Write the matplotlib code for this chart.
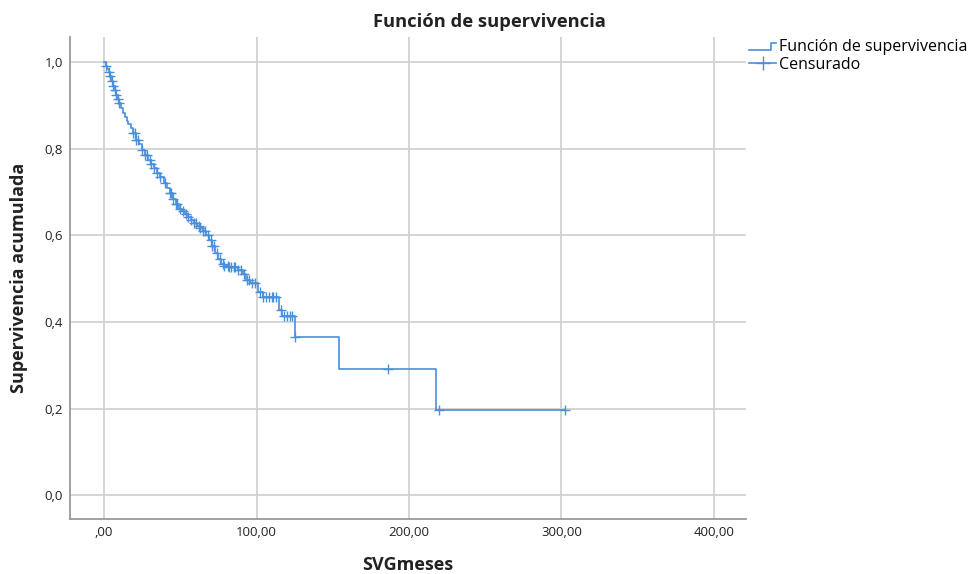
import numpy as np
import matplotlib
matplotlib.use("Agg")
import matplotlib.pyplot as plt
from matplotlib.lines import Line2D
from matplotlib.legend_handler import HandlerBase

# Kaplan-Meier estimate: event times (months) and survival level after each step
event_times = [0, 1, 2, 3, 4, 5, 6, 7, 8, 9, 10, 11, 12.5, 14, 15, 16, 17.5, 19,
               21, 23, 25, 27, 29, 31, 33, 35, 37, 39, 41, 43, 45, 47, 49, 51,
               53, 55, 57, 59, 61, 63, 65, 67, 69, 71, 73, 75, 77, 79, 82, 88,
               91, 93, 96, 101, 104, 115, 117, 125, 154, 218]
survival = [1.0, 0.992, 0.985, 0.977, 0.968, 0.957, 0.945, 0.935, 0.925, 0.915,
            0.905, 0.895, 0.882, 0.873, 0.865, 0.858, 0.847, 0.836, 0.82, 0.81,
            0.798, 0.786, 0.775, 0.765, 0.755, 0.745, 0.735, 0.722, 0.71, 0.698,
            0.685, 0.672, 0.662, 0.656, 0.65, 0.643, 0.636, 0.629, 0.622, 0.616,
            0.609, 0.6, 0.59, 0.575, 0.56, 0.546, 0.535, 0.529, 0.526, 0.521,
            0.51, 0.497, 0.49, 0.469, 0.457, 0.427, 0.414, 0.365, 0.291, 0.196]

# censored observations (months)
censor_times = [1, 3, 4, 5, 6, 7, 8, 9, 10, 19, 20, 21, 22, 25, 27, 28, 30, 31,
                33, 35, 37, 40, 43, 44, 45, 47, 48, 50, 52, 54, 55, 57, 59, 60,
                62, 63, 65, 66, 68, 70, 71, 72, 74, 76, 78, 79, 81, 82, 83, 85,
                86, 88, 90, 92, 94, 95, 97, 99, 102, 104, 106, 108, 110, 111,
                113, 116, 118, 120, 122, 123, 125.5, 186, 219.5, 302]

x_ticks = [0, 100, 200, 300, 400]
x_tick_labels = [",00", "100,00", "200,00", "300,00", "400,00"]
y_ticks = [0.0, 0.2, 0.4, 0.6, 0.8, 1.0]
y_tick_labels = ["0,0", "0,2", "0,4", "0,6", "0,8", "1,0"]

CURVE = "#4a8fdc"
GRID = "#d2d2d2"
TEXT = "#222222"


class StepHandler(HandlerBase):
    """Legend key drawn as a small step."""
    def create_artists(self, legend, orig_handle, xdescent, ydescent,
                       width, height, fontsize, trans):
        x0 = -xdescent
        y0 = -ydescent
        xs = [x0, x0 + width * 0.8, x0 + width * 0.8, x0 + width]
        ys = [y0 + height * 0.1, y0 + height * 0.1, y0 + height * 0.75, y0 + height * 0.75]
        line = Line2D(xs, ys, color=orig_handle.get_color(), lw=orig_handle.get_linewidth())
        line.set_transform(trans)
        return [line]


plt.rcParams["font.family"] = ["Open Sans", "DejaVu Sans"]

fig = plt.figure(figsize=(9.74, 5.74), dpi=100)
ax = fig.add_axes([0.0719, 0.0958, 0.694, 0.8397])

# step curve, extended to the last follow-up time
t = np.array(event_times + [censor_times[-1]])
s = np.array(survival + [survival[-1]])
ax.step(t, s, where="post", color=CURVE, lw=1.2)

# censor marks sit on the curve
ct = np.array(censor_times)
idx = np.searchsorted(np.array(event_times), ct, side="right") - 1
cs = np.array(survival)[idx]
ax.plot(ct, cs, ls="none", marker="+", ms=6.5, mew=1.0, color=CURVE)

ax.set_xlim(-22.3, 421)
ax.set_ylim(-0.055, 1.058)
ax.set_xticks(x_ticks)
ax.set_xticklabels(x_tick_labels)
ax.set_yticks(y_ticks)
ax.set_yticklabels(y_tick_labels)
ax.tick_params(length=0, labelsize=9.5, colors=TEXT, pad=5)
ax.tick_params(axis="x", pad=5)
ax.grid(True, color=GRID, lw=1.3)
ax.set_axisbelow(True)
for side in ["top", "right"]:
    ax.spines[side].set_visible(False)
for side in ["left", "bottom"]:
    ax.spines[side].set_color("#9a9a9a")
    ax.spines[side].set_linewidth(1.3)

ax.set_xlabel("SVGmeses", fontsize=13, fontweight="bold", color=TEXT, labelpad=12)
ax.set_ylabel("Supervivencia acumulada", fontsize=13, fontweight="bold", color=TEXT, labelpad=12)
fig.text(0.503, 0.962, "Función de supervivencia", ha="center", va="center",
         fontsize=13.2, fontweight="bold", color=TEXT)

step_key = Line2D([], [], color=CURVE, lw=1.2)
cens_key = Line2D([], [], color=CURVE, lw=1.2, marker="+", ms=10, mew=1.0)
fig.legend([step_key, cens_key], ["Función de supervivencia", "Censurado"],
           handler_map={step_key: StepHandler()},
           loc="upper left", bbox_to_anchor=(0.769, 0.932), frameon=False,
           fontsize=11.5, handlelength=1.7, handletextpad=0.15, labelspacing=0.1,
           borderaxespad=0, borderpad=0)

fig.savefig("out.png", dpi=100)
